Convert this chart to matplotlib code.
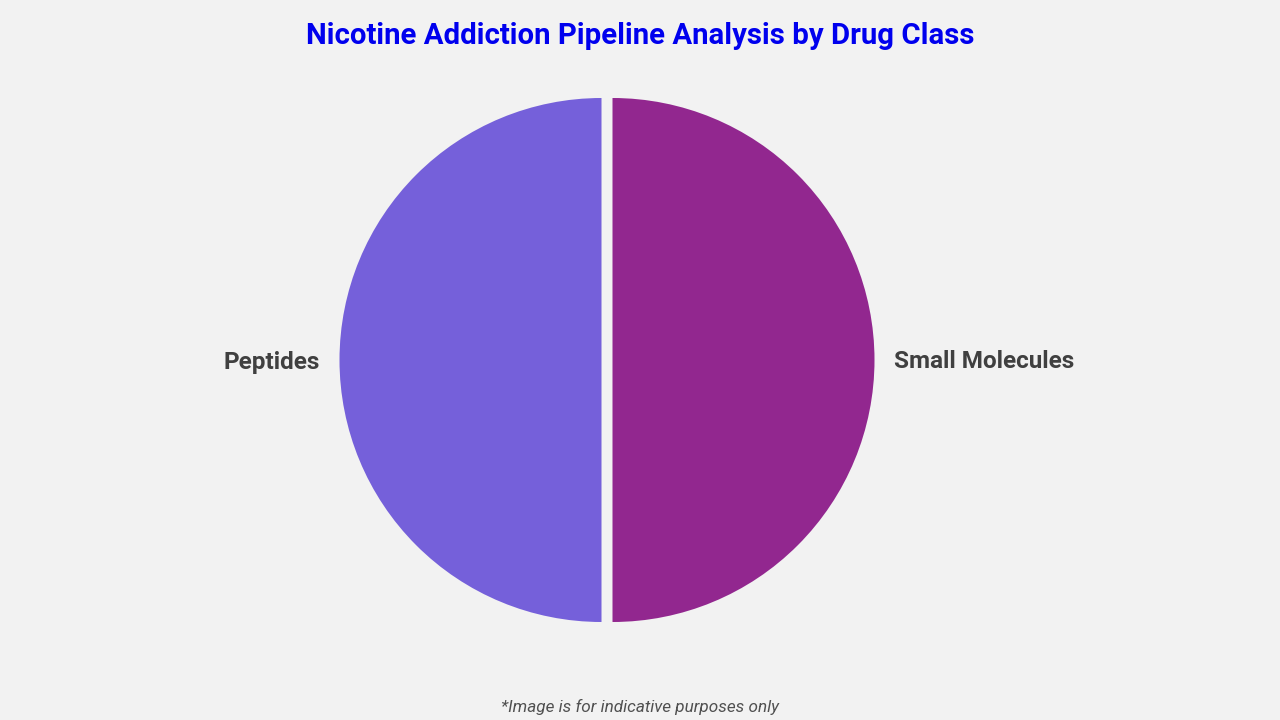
import matplotlib.pyplot as plt

# data
labels = ['Peptides', 'Small Molecules']
values = [50, 50]
colors = ['#7560DA', '#92278F']

bg = '#F2F2F2'

fig = plt.figure(figsize=(12.8, 7.2), dpi=100, facecolor=bg)
ax = fig.add_axes([0, 0, 1, 1])
ax.set_facecolor(bg)

# pie centred at (0, 0); limits put it at pixel (607, 360)
wedges, texts = ax.pie(values, labels=labels, colors=colors,
                       startangle=90, counterclock=True,
                       radius=262, explode=[5.5, 5.5], labeldistance=1.075,
                       textprops=dict(fontsize=17.5, fontweight='bold',
                                      color='#404040', family='Roboto'),
                       frame=True)
for t in texts:
    t.set_y(t.get_position()[1] - 2)
ax.set_xlim(-607, 673)
ax.set_ylim(-360, 360)
ax.set_aspect('equal')
ax.axis('off')

fig.text(0.5, 1 - 36 / 720, 'Nicotine Addiction Pipeline Analysis by Drug Class',
         ha='center', va='center', fontsize=21.2, fontweight='bold',
         color='#0000EE', family='Roboto')
fig.text(0.5, 1 - 707 / 720, '*Image is for indicative purposes only',
         ha='center', va='center', fontsize=12.3, style='italic',
         color='#505050', family='Roboto')

fig.savefig('out.png', dpi=100, facecolor=bg)
